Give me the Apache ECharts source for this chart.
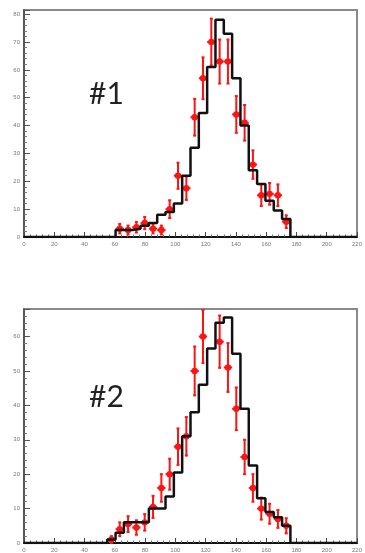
<!DOCTYPE html>
<html><head><meta charset="utf-8">
<script src="https://cdn.jsdelivr.net/npm/echarts@6/dist/echarts.min.js"></script>
<style>html,body{margin:0;padding:0;background:#fff}#c{width:365px;height:553px}</style>
</head><body><div id="c"></div>
<script>
// ---- data ----
const xTickValues = [0, 20, 40, 60, 80, 100, 120, 140, 160, 180, 200, 220];
const yTickValues1 = [0, 10, 20, 30, 40, 50, 60, 70, 80];
const yTickValues2 = [0, 10, 20, 30, 40, 50, 60];
const panelLabels = ['#1', '#2'];

// panel #1 : bin low edges, last upper edge, MC histogram, data points, errors
const binStarts1 = [60.5, 66, 71.5, 77, 82.5, 88, 93.5, 99, 104.5, 110, 115.5, 121, 126.5, 132, 137.5, 143, 148.5, 154, 159.5, 165, 170.5];
const binEnd1 = 176;
const mc1   = [2.5, 2.5, 3, 4, 5, 8, 9, 12, 22, 32, 44.5, 61, 78, 73, 57, 40, 24, 19, 13, 9.5, 6.5];
const data1 = [3, 2.5, 3.5, 5, 3, 2.5, 10, 22, 17.5, 43, 57, 70, 63, 63, 44, 41, 26, 15, 15.5, 15, 5.5];
const err1  = [1.7, 1.6, 1.9, 2.2, 1.7, 1.6, 3.2, 4.7, 4.2, 6.6, 7.5, 8.4, 7.9, 7.9, 6.6, 6.4, 5.1, 3.9, 3.9, 3.9, 2.3];

// panel #2
const binStarts2 = [55, 60.5, 66, 71.5, 77, 82.5, 88, 93.5, 99, 104.5, 110, 115.5, 121, 126.5, 132, 137.5, 143, 148.5, 154, 159.5, 165, 170.5];
const binEnd2 = 176;
const mc2   = [1, 3, 6, 6, 6, 10, 10, 13.5, 20.5, 31, 38, 46, 56.5, 64, 65.5, 55, 39, 22.5, 13, 9, 7.5, 5];
const data2 = [1, 4, 5.5, 4.5, 6, 10.5, 16, 20, 28, 31, 50, 60, null, 58.5, 51, 39, 25, 16, 10, 8.5, 7, 5];
const err2  = [1, 2, 2.3, 2.1, 2.4, 3.2, 4, 4.5, 5.3, 5.6, 7.1, 7.7, null, 7.6, 7.1, 6.2, 5, 4, 3.2, 2.9, 2.6, 2.2];

const X_MIN = 0, X_MAX = 220;

function histLine(starts, end, counts) {
  const pts = [[X_MIN, 0]];
  starts.forEach((s, i) => pts.push([s, counts[i]]));
  pts.push([end, 0]);
  pts.push([X_MAX, 0]);
  return pts;
}
function points(starts, end, vals, errs) {
  const out = [];
  starts.forEach((s, i) => {
    if (vals[i] == null) return;
    const hi = i + 1 < starts.length ? starts[i + 1] : end;
    out.push([(s + hi) / 2, vals[i], errs[i], s, hi]);
  });
  return out;
}

const RED = '#ff1414';
function renderErr(params, api) {
  const x = api.value(0), y = api.value(1), e = api.value(2), xl = api.value(3), xh = api.value(4);
  const c = api.coord([x, y]);
  const top = api.coord([x, y + e]);
  const bot = api.coord([x, Math.max(0, y - e)]);
  const l = api.coord([xl, y]);
  const r = api.coord([xh, y]);
  const st = { stroke: RED, lineWidth: 2 };
  return {
    type: 'group',
    children: [
      { type: 'line', shape: { x1: c[0], y1: top[1], x2: c[0], y2: bot[1] }, style: st },
      { type: 'line', shape: { x1: l[0], y1: c[1], x2: r[0], y2: c[1] }, style: st },
      { type: 'line', shape: { x1: c[0] - 1.5, y1: top[1], x2: c[0] + 1.5, y2: top[1] }, style: st },
      { type: 'line', shape: { x1: c[0] - 1.5, y1: bot[1], x2: c[0] + 1.5, y2: bot[1] }, style: st },
      { type: 'circle', shape: { cx: c[0], cy: c[1], r: 3.2 }, style: { fill: RED } }
    ]
  };
}

function xAxis(gi) {
  return {
    type: 'value', gridIndex: gi, min: X_MIN, max: X_MAX, interval: 20,
    axisLine: { show: true, onZero: false, lineStyle: { color: '#111', width: 2 } },
    axisTick: { show: true, inside: true, length: 5, lineStyle: { color: '#444', width: 1 } },
    minorTick: { show: true, splitNumber: 5, length: 2.5, lineStyle: { color: '#666', width: 1 } },
    axisLabel: { fontSize: 6, color: '#777', margin: 4, fontFamily: 'Liberation Sans',
      formatter: v => (xTickValues.indexOf(v) >= 0 ? String(v) : '') },
    splitLine: { show: false }
  };
}
function yAxis(gi, max, ticks) {
  return {
    type: 'value', gridIndex: gi, min: 0, max: max, interval: 10,
    axisLine: { show: true, onZero: false, lineStyle: { color: '#444', width: 1.5 } },
    axisTick: { show: true, inside: true, length: 6, lineStyle: { color: '#555', width: 1 } },
    minorTick: { show: true, splitNumber: 5, length: 3, lineStyle: { color: '#777', width: 1 } },
    axisLabel: { fontSize: 6, color: '#777', margin: 4, fontFamily: 'Liberation Sans',
      formatter: v => (ticks.indexOf(v) >= 0 ? String(v) : '') },
    splitLine: { show: false }
  };
}

const chart = echarts.init(document.getElementById('c'), null, { renderer: 'canvas' });
chart.setOption({
  animation: false,
  backgroundColor: '#fff',
  grid: [
    { left: 24, top: 10, width: 339, height: 227, show: true, borderColor: '#8a8a8a', borderWidth: 2, backgroundColor: 'transparent' },
    { left: 24, top: 309, width: 347, height: 234, show: true, borderColor: '#8a8a8a', borderWidth: 2, backgroundColor: 'transparent' }
  ],
  xAxis: [xAxis(0), xAxis(1)],
  yAxis: [yAxis(0, 81.5, yTickValues1), yAxis(1, 68, yTickValues2)],
  graphic: [
    { type: 'text', left: 89, top: 79, style: { text: panelLabels[0], font: '30px Lato', fill: '#222' } },
    { type: 'text', left: 89, top: 382, style: { text: panelLabels[1], font: '30px Lato', fill: '#222' } }
  ],
  series: [
    { type: 'custom', xAxisIndex: 0, yAxisIndex: 0, renderItem: renderErr, data: points(binStarts1, binEnd1, data1, err1), z: 2 },
    { type: 'line', xAxisIndex: 0, yAxisIndex: 0, step: 'end', symbol: 'none', data: histLine(binStarts1, binEnd1, mc1),
      lineStyle: { color: '#111', width: 2.5 }, z: 3 },
    { type: 'custom', xAxisIndex: 1, yAxisIndex: 1, renderItem: renderErr, data: points(binStarts2, binEnd2, data2, err2), z: 2 },
    { type: 'line', xAxisIndex: 1, yAxisIndex: 1, step: 'end', symbol: 'none', data: histLine(binStarts2, binEnd2, mc2),
      lineStyle: { color: '#111', width: 2.5 }, z: 3 }
  ]
});
</script>
</body></html>
